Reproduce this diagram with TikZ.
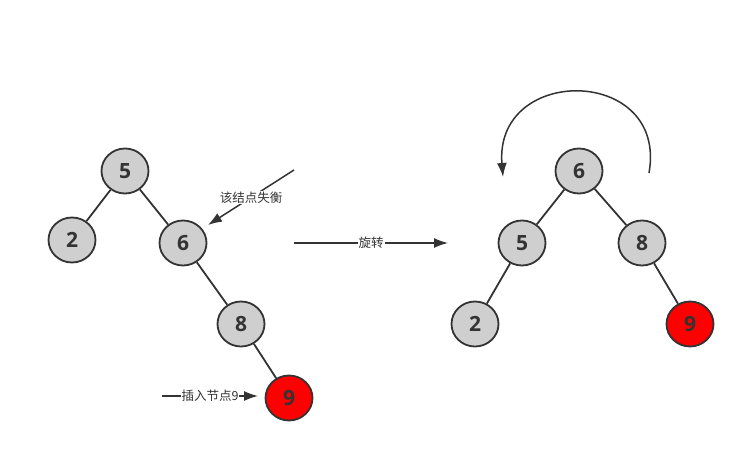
\documentclass[tikz,border=0pt]{standalone}
\usepackage{fontspec}
\setmainfont{Open Sans}
\newfontfamily\cjk{Noto Sans CJK SC}
\usetikzlibrary{arrows.meta,shapes.geometric}
\definecolor{ink}{HTML}{333333}
\definecolor{nodegray}{HTML}{CFCFCF}
\begin{document}
\begin{tikzpicture}[x=1pt,y=-1pt,
  tnode/.style={ellipse,draw=ink,line width=1.8pt,fill=nodegray,minimum width=47pt,minimum height=45pt,inner sep=0pt,
    font=\fontsize{21}{21}\selectfont\bfseries,text=ink},
  rednode/.style={tnode,fill=red},
  edge/.style={draw=ink,line width=1.8pt},
  arr/.style={draw=ink,line width=1.5pt,-{Latex[length=14pt,width=10pt]}},
  lbl/.style={font=\cjk\fontsize{12.5}{12.5}\selectfont,text=ink,fill=white,inner sep=1pt}
]
\useasboundingbox (0,0) rectangle (746,454);
% left tree
\node[tnode] (l5) at (125,171) {5};
\node[tnode] (l2) at (72,240) {2};
\node[tnode] (l6) at (183,243) {6};
\node[tnode] (l8) at (241,324) {8};
\node[rednode] (l9) at (289,398) {9};
\draw[edge] (l5) -- (l2);
\draw[edge] (l5) -- (l6);
\draw[edge] (l6) -- (l8);
\draw[edge] (l8) -- (l9);
% right tree
\node[tnode] (r6) at (579,171) {6};
\node[tnode] (r5) at (522,243) {5};
\node[tnode] (r8) at (642,243) {8};
\node[tnode] (r2) at (475,324) {2};
\node[rednode] (r9) at (690,324) {9};
\draw[edge] (r6) -- (r5);
\draw[edge] (r6) -- (r8);
\draw[edge] (r5) -- (r2);
\draw[edge] (r8) -- (r9);
% annotations
\coordinate (a1s) at (294,170);
\coordinate (a1e) at (208,225);
\draw[arr] (a1s) -- node[lbl] {该结点失衡} (a1e);
\coordinate (a2s) at (162,396);
\coordinate (a2e) at (258,396);
\draw[arr] (a2s) -- node[lbl] {插入节点9} (a2e);
\coordinate (a3s) at (294,243);
\coordinate (a3e) at (448,243);
\draw[arr] (a3s) -- node[lbl] {旋转} (a3e);
\coordinate (c1) at (649,173);
\coordinate (c2) at (503,177);
\draw[arr] (c1) .. controls (668,66) and (494,64) .. (c2);
\end{tikzpicture}
\end{document}
